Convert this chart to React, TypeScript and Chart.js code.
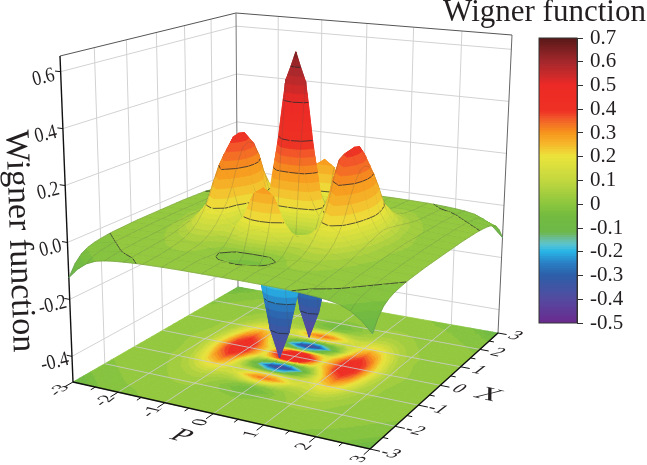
import React, { useEffect, useRef } from "react";
import { Chart, registerables } from "chart.js";
Chart.register(...registerables);

// Wigner function: p = 0..3, x = 0..3 in steps of 0.2; the state is mirror symmetric
const P_AXIS = [0, 0.2, 0.4, 0.6, 0.8, 1, 1.2, 1.4, 1.6, 1.8, 2, 2.2, 2.4, 2.6, 2.8, 3];
const ROW_00 = [0.64, 0.56, 0.35, 0.17, 0.26, 0.37, 0.395, 0.34, 0.22, 0.115, 0.055, 0.03, 0.022, 0.018, 0.014, 0.01];
const ROW_02 = [0.4, 0.35, 0.24, 0.16, 0.25, 0.36, 0.39, 0.33, 0.21, 0.11, 0.055, 0.03, 0.02, 0.018, 0.014, 0.01];
const ROW_04 = [-0.157, -0.118, -0.04, 0.05, 0.19, 0.315, 0.362, 0.3, 0.19, 0.1, 0.05, 0.027, 0.019, 0.016, 0.014, 0.01];
const ROW_06 = [-0.43, -0.345, -0.196, -0.04, 0.12, 0.255, 0.313, 0.26, 0.165, 0.088, 0.045, 0.025, 0.019, 0.016, 0.014, 0.01];
const ROW_08 = [-0.179, -0.144, -0.061, 0.02, 0.115, 0.215, 0.258, 0.215, 0.138, 0.075, 0.04, 0.024, 0.018, 0.016, 0.014, 0.01];
const ROW_10 = [0.18, 0.165, 0.13, 0.105, 0.125, 0.175, 0.2, 0.168, 0.108, 0.062, 0.035, 0.022, 0.018, 0.015, 0.012, 0.008];
const ROW_12 = [0.29, 0.27, 0.205, 0.13, 0.11, 0.125, 0.14, 0.118, 0.08, 0.048, 0.028, 0.018, 0.014, 0.012, 0.01, 0.006];
const ROW_14 = [0.154, 0.14, 0.105, 0.072, 0.072, 0.085, 0.095, 0.082, 0.058, 0.037, 0.023, 0.016, 0.013, 0.011, 0.009, 0.004];
const ROW_16 = [-0.018, -0.012, 0.005, 0.022, 0.04, 0.055, 0.062, 0.055, 0.04, 0.027, 0.018, 0.013, 0.011, 0.009, 0.006, 0.002];
const ROW_18 = [-0.059, -0.049, -0.026, 0.003, 0.025, 0.038, 0.042, 0.038, 0.03, 0.021, 0.015, 0.012, 0.009, 0.006, 0.002, -0.002];
const ROW_20 = [-0.029, -0.024, -0.01, 0.007, 0.021, 0.029, 0.032, 0.029, 0.023, 0.017, 0.013, 0.008, 0.005, 0.002, -0.002, -0.006];
const ROW_22 = [-0.002, 0.001, 0.006, 0.011, 0.017, 0.021, 0.022, 0.02, 0.016, 0.012, 0.009, 0.005, 0.002, -0.002, -0.007, -0.012];
const ROW_24 = [0.016, 0.016, 0.017, 0.018, 0.018, 0.016, 0.015, 0.013, 0.01, 0.007, 0.004, 0.002, -0.002, -0.007, -0.013, -0.022];
const ROW_26 = [0.015, 0.015, 0.016, 0.016, 0.015, 0.014, 0.012, 0.009, 0.006, 0.003, 0.001, -0.002, -0.007, -0.013, -0.024, -0.04];
const ROW_28 = [0.012, 0.012, 0.012, 0.012, 0.011, 0.01, 0.008, 0.005, 0.002, -0.001, -0.004, -0.008, -0.014, -0.024, -0.045, -0.075];
const ROW_30 = [0.008, 0.008, 0.008, 0.008, 0.007, 0.006, 0.004, 0.002, -0.001, -0.004, -0.008, -0.014, -0.024, -0.045, -0.08, -0.13];
const QUADRANT = [ROW_00, ROW_02, ROW_04, ROW_06, ROW_08, ROW_10, ROW_12, ROW_14, ROW_16, ROW_18, ROW_20, ROW_22, ROW_24, ROW_26, ROW_28, ROW_30];

const AXIS_TICKS = [-3, -2, -1, 0, 1, 2, 3];
const Z_TICKS = [-0.4, -0.2, 0, 0.2, 0.4, 0.6];
const CONTOUR_LEVELS = [-0.35, -0.25, 0, 0.2, 0.3, 0.4, 0.5, 0.6];
const COLOR_VALUES = [-0.5, -0.4, -0.3, -0.25, -0.2, -0.17, -0.14, -0.12, -0.05, 0, 0.1, 0.2, 0.25, 0.3, 0.36, 0.39, 0.5, 0.55, 0.6, 0.7];
const COLOR_STOPS = ["#6a2a8e", "#544ba0", "#2c5fa8", "#2a7fc4", "#27b5e6", "#5cc4cf", "#6dbb8a", "#6cb84a", "#73bb3f", "#8cc63f", "#c3d83f", "#ebe43c", "#f6b92b", "#f7941d", "#f2592a", "#ee3124", "#ed2a26", "#c52a2b", "#a3282c", "#571818"];

// The drawn height of the surface against its value, as calibrated from contour positions in the picture
const STRETCH_Z = [-0.45, -0.3, -0.13, 0, 0.1, 0.2, 0.3, 0.4, 0.5, 0.6, 0.65];
const STRETCH_H = [0.01, 0.16, 0.32, 0.4, 0.44, 0.49, 0.6, 0.7, 0.82, 0.93, 0.99];

const Z_MIN = -0.49, Z_MAX = 0.655;
const FLOOR = [[73, 382], [370, 449], [498, 333], [238, 287]];
const CEIL = [[60, 56], [378, 89], [512, 35], [236, 13]];
const FONT = "'Liberation Serif', 'Times New Roman', serif";

const W = 647, H = 465;

function homography(q: number[][]) {
  const [[x0, y0], [x1, y1], [x2, y2], [x3, y3]] = q;
  const dx1 = x1 - x2, dx2 = x3 - x2, sx = x0 - x1 + x2 - x3;
  const dy1 = y1 - y2, dy2 = y3 - y2, sy = y0 - y1 + y2 - y3;
  const den = dx1 * dy2 - dx2 * dy1;
  const g = (sx * dy2 - dx2 * sy) / den, h = (dx1 * sy - sx * dy1) / den;
  const a = x1 - x0 + g * x1, b = x3 - x0 + h * x3, d = y1 - y0 + g * y1, e = y3 - y0 + h * y3;
  return (p: number, x: number) => {
    const u = (p + 3) / 6, v = (x + 3) / 6, w = g * u + h * v + 1;
    return [(a * u + b * v + x0) / w, (d * u + e * v + y0) / w];
  };
}
const floorAt = homography(FLOOR), ceilAt = homography(CEIL);
function at(p: number, x: number, f: number) {
  const a = floorAt(p, x), b = ceilAt(p, x);
  return { x: a[0] + (b[0] - a[0]) * f, y: a[1] + (b[1] - a[1]) * f };
}
const axisFrac = (z: number) => (z - Z_MIN) / (Z_MAX - Z_MIN);
function interp(v: number, xs: number[], ys: number[]) {
  if (v <= xs[0]) return ys[0];
  for (let i = 1; i < xs.length; i++) if (v <= xs[i]) return ys[i - 1] + ((v - xs[i - 1]) / (xs[i] - xs[i - 1])) * (ys[i] - ys[i - 1]);
  return ys[ys.length - 1];
}
const heightOf = (z: number) => interp(z, STRETCH_Z, STRETCH_H);
function colorOf(z: number) {
  const hex = (s: string) => [1, 3, 5].map((i) => parseInt(s.slice(i, i + 2), 16));
  let i = 1;
  while (i < COLOR_VALUES.length - 1 && z > COLOR_VALUES[i]) i++;
  const t = Math.max(0, Math.min(1, (z - COLOR_VALUES[i - 1]) / (COLOR_VALUES[i] - COLOR_VALUES[i - 1])));
  const a = hex(COLOR_STOPS[i - 1]), b = hex(COLOR_STOPS[i]);
  return `rgb(${a.map((v, k) => Math.round(v + (b[k] - v) * t)).join(",")})`;
}

// Full grid mirrored from the quadrant
const N = P_AXIS.length;
const GRID_AXIS = [...P_AXIS.slice(1).reverse().map((v) => -v), ...P_AXIS];
const valueAt = (ip: number, ix: number) => QUADRANT[Math.abs(ix - (N - 1))][Math.abs(ip - (N - 1))];

type V = number[];
function clip(poly: V[], level: number, keepAbove: boolean) {
  const out: V[] = [];
  for (let i = 0; i < poly.length; i++) {
    const a = poly[i], b = poly[(i + 1) % poly.length];
    const ia = keepAbove ? a[2] >= level : a[2] <= level;
    const ib = keepAbove ? b[2] >= level : b[2] <= level;
    if (ia) out.push(a);
    if (ia !== ib) {
      const t = (level - a[2]) / (b[2] - a[2]);
      out.push([a[0] + (b[0] - a[0]) * t, a[1] + (b[1] - a[1]) * t, level]);
    }
  }
  return out;
}
const BAND = 0.025;
function poly(points: { x: number; y: number }[], color: string) {
  return { type: "line", data: [...points, points[0]], borderColor: color, backgroundColor: color, borderWidth: 0.8, pointRadius: 0, fill: "shape", tension: 0, clip: false, parsing: false };
}
function stroke(points: { x: number; y: number }[], color: string, width: number) {
  return { type: "line", data: points, borderColor: color, borderWidth: width, pointRadius: 0, fill: false, tension: 0, clip: false, parsing: false };
}
function bands(cell: V[], out: any[], project: (v: V) => { x: number; y: number }, tone: (z: number) => number) {
  const zs = cell.map((v) => v[2]);
  const lo = Math.floor(Math.min(...zs) / BAND), hi = Math.ceil(Math.max(...zs) / BAND);
  for (let b = lo; b < hi; b++) {
    let pg = clip(cell, b * BAND, true);
    if (pg.length) pg = clip(pg, (b + 1) * BAND, false);
    if (pg.length < 3) continue;
    out.push(poly(pg.map(project), colorOf(tone((b + 0.5) * BAND))));
  }
}

function buildDatasets() {
  const out: any[] = [];
  const wall = "#d2d2d2";
  // walls
  for (const t of AXIS_TICKS.slice(1, -1)) {
    out.push(stroke([at(-3, t, 0), at(-3, t, 1)], wall, 1));
    out.push(stroke([at(t, 3, 0), at(t, 3, 1)], wall, 1));
  }
  for (const z of Z_TICKS) {
    const f = axisFrac(z);
    out.push(stroke([at(-3, -3, f), at(-3, 3, f)], wall, 1));
    out.push(stroke([at(-3, 3, f), at(3, 3, f)], wall, 1));
  }
  // floor map
  const m = GRID_AXIS.length;
  const floorTone = (z: number) => (z > 0.1 ? Math.min(0.47, z * 1.12) : z);
  for (let ix = 0; ix < m - 1; ix++) for (let ip = 0; ip < m - 1; ip++) {
    const c: V[] = [[ip, ix], [ip + 1, ix], [ip + 1, ix + 1], [ip, ix + 1]].map(([a, b]) => [GRID_AXIS[a], GRID_AXIS[b], valueAt(a, b)]);
    bands(c, out, (v) => at(v[0], v[1], 0), floorTone);
  }
  for (const t of AXIS_TICKS.slice(1, -1)) {
    out.push(stroke([at(t, -3, 0), at(t, 3, 0)], "rgba(205,205,205,0.8)", 1));
    out.push(stroke([at(-3, t, 0), at(3, t, 0)], "rgba(205,205,205,0.8)", 1));
  }
  // box edges and ticks
  out.push(stroke([at(-3, -3, 1), at(-3, 3, 1), at(3, 3, 1)], "#555", 1));
  out.push(stroke([at(-3, 3, 0), at(-3, 3, 1)], "#777", 1));
  out.push(stroke([at(3, 3, 0), at(3, 3, 1)], "#666", 1));
  out.push(stroke([at(-3, -3, 0), at(-3, -3, 1)], "#111", 1.4));
  out.push(stroke([at(-3, -3, 0), at(3, -3, 0), at(3, 3, 0)], "#111", 1.4));
  for (const z of Z_TICKS) out.push(stroke([at(-3, -3, axisFrac(z)), at(-3.12, -3, axisFrac(z))], "#111", 1));
  for (let t = -3; t <= 3; t += 0.5) {
    const major = Number.isInteger(t);
    out.push(stroke([at(t, -3, 0), at(t, major ? -3.24 : -3.14, 0)], "#111", 1));
    out.push(stroke([at(3, t, 0), at(major ? 3.18 : 3.1, t, 0)], "#111", 1));
  }
  // surface, painted from the far corner to the near one
  const proj = (v: V) => at(v[0], v[1], heightOf(v[2]));
  for (let ix = m - 2; ix >= 0; ix--) for (let ip = 0; ip < m - 1; ip++) {
    const idx = [[ip, ix], [ip + 1, ix], [ip + 1, ix + 1], [ip, ix + 1]];
    const c: V[] = idx.map(([a, b]) => [GRID_AXIS[a], GRID_AXIS[b], valueAt(a, b)]);
    bands(c, out, proj, (z) => z);
    const mesh = "rgba(80,80,80,0.34)";
    if (ix % 2 === 0) out.push(stroke([proj(c[0]), proj(c[1])], mesh, 0.6));
    if (ip % 2 === 0) out.push(stroke([proj(c[0]), proj(c[3])], mesh, 0.6));
    if (ix === m - 2) out.push(stroke([proj(c[3]), proj(c[2])], mesh, 0.6));
    if (ip === m - 2) out.push(stroke([proj(c[1]), proj(c[2])], mesh, 0.6));
    for (const L of CONTOUR_LEVELS) {
      const pts: { x: number; y: number }[] = [];
      for (let k = 0; k < 4; k++) {
        const a = c[k], b = c[(k + 1) % 4];
        if ((a[2] < L) !== (b[2] < L)) {
          const t = (L - a[2]) / (b[2] - a[2]);
          pts.push(proj([a[0] + (b[0] - a[0]) * t, a[1] + (b[1] - a[1]) * t, L]));
        }
      }
      for (let k = 0; k + 1 < pts.length; k += 2) out.push(stroke([pts[k], pts[k + 1]], "rgba(45,45,45,0.8)", 1));
    }
  }
  return out.reverse();
}

const labelPlugin = {
  id: "axisText",
  afterDraw(chart: any) {
    const ctx = chart.ctx;
    const sx = chart.scales.x, sy = chart.scales.y;
    const put = (text: string, pos: { x: number; y: number }, m: number[], size: number, color = "#231f20") => {
      ctx.save();
      ctx.transform(m[0], m[1], m[2], m[3], sx.getPixelForValue(pos.x), sy.getPixelForValue(pos.y));
      ctx.font = `${size}px ${FONT}`;
      ctx.fillStyle = color;
      ctx.textAlign = "center";
      ctx.textBaseline = "middle";
      ctx.fillText(text, 0, 0);
      ctx.restore();
    };
    const fp = [0.97, 0.23], fx = [0.8, -0.62];
    for (const t of AXIS_TICKS) {
      put(String(t), at(t, -3.42, 0), [fx[0], fx[1], fp[0] * 1.1, fp[1] * 1.1], 18);
      put(String(t), at(3.36, t, 0), [fp[0] * 1.1, fp[1] * 1.1, -fx[0], -fx[1]], 18);
    }
    for (const z of Z_TICKS) {
      const p = at(-3, -3, axisFrac(z));
      const c = Math.cos(-0.24), s = Math.sin(-0.24);
      put(z.toFixed(1), { x: p.x - 17, y: p.y + 6 }, [c * 0.85, s * 0.85, -s, c], 21);
    }
    put("P", { x: 181, y: 436 }, [fp[0] * 1.2, fp[1] * 1.2, -fx[0], -fx[1]], 25);
    put("X", { x: 488, y: 395 }, [fp[0] * 1.2, fp[1] * 1.2, -fx[0], -fx[1]], 25);
    const r = (88 * Math.PI) / 180;
    put("Wigner function", { x: 19, y: 241 }, [Math.cos(r), Math.sin(r), -Math.sin(r), Math.cos(r)], 34);
    put("Wigner function", { x: 544.5, y: 13 }, [1, 0, 0, 1], 31);
  },
};

const BAR_STEPS = Array.from({ length: 120 }, (_, i) => -0.5 + i * 0.01);
const BAR_TICKS = [0.7, 0.6, 0.5, 0.4, 0.3, 0.2, 0.1, 0, -0.1, -0.2, -0.3, -0.4, -0.5];

export default function App() {
  const mainRef = useRef<HTMLCanvasElement>(null);
  const barRef = useRef<HTMLCanvasElement>(null);
  useEffect(() => {
    const main = new Chart(mainRef.current!, {
      type: "line",
      data: { datasets: buildDatasets() as any },
      options: {
        animation: false, responsive: false, events: [], parsing: false,
        layout: { padding: 0 },
        plugins: { legend: { display: false }, tooltip: { enabled: false } },
        scales: {
          x: { type: "linear", min: 0, max: W, display: false },
          y: { type: "linear", min: 0, max: H, reverse: true, display: false },
        },
      } as any,
      plugins: [labelPlugin as any],
    });
    const bar = new Chart(barRef.current!, {
      type: "bar",
      data: {
        labels: ["Wigner function"],
        datasets: BAR_STEPS.map((v) => ({ data: [[v, v + 0.0105]], backgroundColor: colorOf(v + 0.005), barPercentage: 1, categoryPercentage: 1, grouped: false })) as any,
      },
      options: {
        animation: false, responsive: false, events: [],
        layout: { padding: { left: 9, top: 13, bottom: 12 } },
        plugins: { legend: { display: false }, tooltip: { enabled: false } },
        scales: {
          x: { display: false },
          y: {
            position: "right", min: -0.5, max: 0.7,
            afterFit: (s: any) => { s.width = 70; s.paddingTop = 0; s.paddingBottom = 0; },
            afterBuildTicks: (s: any) => { s.ticks = BAR_TICKS.map((value) => ({ value })); },
            grid: { drawOnChartArea: false, tickLength: 6, color: "#333" },
            border: { color: "#333" },
            ticks: { padding: 7, autoSkip: false, color: "#231f20", font: { family: FONT, size: 21 }, callback: (v: any) => String(v) },
          },
        },
      } as any,
      plugins: [{
        id: "frame",
        afterDraw(c: any) {
          const a = c.chartArea;
          c.ctx.save();
          c.ctx.strokeStyle = "#333";
          c.ctx.lineWidth = 1;
          c.ctx.strokeRect(a.left, a.top, a.right - a.left, a.bottom - a.top);
          c.ctx.restore();
        },
      } as any],
    });
    return () => { main.destroy(); bar.destroy(); };
  }, []);
  return (
    <div style={{ position: "absolute", left: 0, top: 0, width: W, height: H, background: "#fff" }}>
      <canvas ref={mainRef} width={W} height={H} style={{ position: "absolute", left: 0, top: 0 }} />
      <canvas ref={barRef} width={117} height={310} style={{ position: "absolute", left: 530, top: 25 }} />
    </div>
  );
}
